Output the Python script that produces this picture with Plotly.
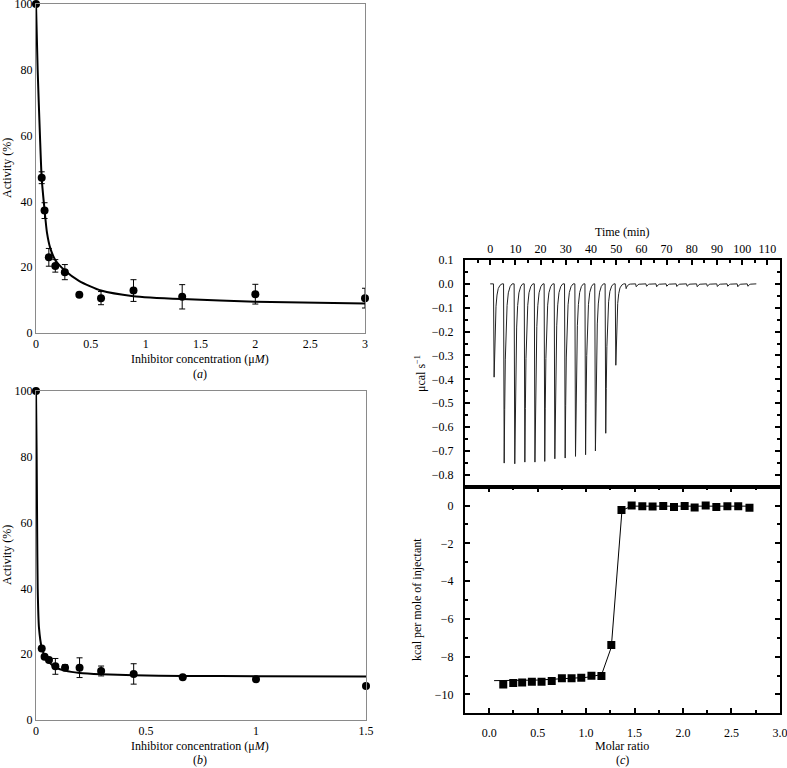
import plotly.graph_objects as go

# ---- panel (a): activity vs inhibitor concentration ----
conc_a = [0, 0.052, 0.078, 0.117, 0.176, 0.263, 0.395, 0.593, 0.889, 1.333, 2.0, 3.0]
act_a = [100, 47.2, 37.2, 23.0, 20.4, 18.5, 11.6, 10.6, 12.9, 11.0, 11.8, 10.6]
err_a = [0, 1.8, 2.4, 2.7, 1.9, 2.3, 0, 2.0, 3.3, 3.7, 3.0, 3.0]
fit_x_a = [0, 0.015, 0.036, 0.052, 0.078, 0.1, 0.13, 0.176, 0.263, 0.395, 0.593, 0.889, 1.333, 2.0, 3.0]
fit_y_a = [100, 80, 60, 47, 37.4, 30.5, 25.8, 22.2, 19.0, 15.8, 12.9, 11.2, 10.3, 9.5, 9.0]

# ---- panel (b) ----
conc_b = [0, 0.026, 0.039, 0.059, 0.088, 0.132, 0.198, 0.296, 0.444, 0.667, 1.0, 1.5]
act_b = [100, 21.7, 19.2, 18.2, 16.3, 15.9, 15.9, 14.9, 14.0, 13.0, 12.4, 10.3]
err_b = [0, 0, 0.5, 0.6, 2.4, 0.9, 3.0, 1.5, 3.1, 0, 0, 0]
fit_x_b = [0, 0.003, 0.005, 0.0077, 0.0136, 0.026, 0.039, 0.059, 0.088, 0.132, 0.198, 0.296, 0.444, 0.667, 1.0, 1.5]
fit_y_b = [100, 80, 60, 40, 28, 22, 19.6, 17.6, 16.0, 15.0, 14.3, 13.9, 13.6, 13.4, 13.3, 13.2]

# ---- panel (c) top: raw ITC thermogram ----
inj_time = [1.3, 5.3, 9.5, 13.5, 17.5, 21.4, 25.4, 29.5, 33.6, 37.6, 41.5, 45.6, 49.6,
            53.7, 57.7, 61.8, 65.8, 69.8, 73.8, 77.9, 81.9, 85.9, 89.9, 94.0, 98.0, 102.0]
inj_peak = [-0.391, -0.751, -0.754, -0.747, -0.747, -0.744, -0.733, -0.730, -0.723, -0.716, -0.700, -0.626, -0.341,
            -0.020, -0.012, -0.010, -0.012, -0.010, -0.011, -0.010, -0.012, -0.010, -0.011, -0.010, -0.012, -0.010]
run_end = 105.6
# spike outline: time offset (min) and fraction of peak depth
spike_dt = [0.0, 0.25, 0.45, 0.7, 1.0, 1.4, 1.9, 2.6, 3.4]
spike_frac = [0, 1.0, 0.7, 0.42, 0.24, 0.12, 0.05, 0.015, 0]

# ---- panel (c) bottom: integrated heats ----
molar_ratio = [0.145, 0.248, 0.34, 0.44, 0.54, 0.645, 0.75, 0.85, 0.95, 1.055, 1.158, 1.26, 1.365,
               1.47, 1.58, 1.686, 1.796, 1.907, 2.017, 2.12, 2.234, 2.344, 2.458, 2.57, 2.686]
heat = [-9.47, -9.40, -9.37, -9.33, -9.33, -9.29, -9.15, -9.15, -9.12, -9.01, -9.03, -7.38, -0.23,
        0.0, -0.04, -0.05, -0.02, -0.07, -0.02, -0.10, 0.0, -0.07, -0.04, -0.04, -0.12]
fit_x_c = [0.05, 0.5, 1.0, 1.16, 1.26, 1.37, 1.47, 2.0, 2.68]
fit_y_c = [-9.27, -9.24, -9.1, -8.95, -7.5, -0.25, -0.03, -0.03, -0.03]

W, H = 787, 768
FONT = "Liberation Serif"


def px(x):
    return x / W


def py(y):
    return 1 - y / H


therm_x, therm_y = [0], [0]
for t, d in zip(inj_time, inj_peak):
    for dt, f in zip(spike_dt, spike_frac):
        therm_x.append(t + dt)
        therm_y.append(d * f)
therm_x.append(run_end)
therm_y.append(0)

fig = go.Figure()

# panel a
fig.add_trace(go.Scatter(x=fit_x_a, y=fit_y_a, mode="lines", line=dict(color="black", width=2, shape="spline", smoothing=0.6),
                         xaxis="x", yaxis="y", cliponaxis=False))
fig.add_trace(go.Scatter(x=conc_a, y=act_a, mode="markers", marker=dict(color="black", size=8),
                         error_y=dict(type="data", array=err_a, color="black", thickness=1, width=3),
                         xaxis="x", yaxis="y", cliponaxis=False))
# panel b
fig.add_trace(go.Scatter(x=fit_x_b, y=fit_y_b, mode="lines", line=dict(color="black", width=2, shape="spline", smoothing=0.6),
                         xaxis="x2", yaxis="y2", cliponaxis=False))
fig.add_trace(go.Scatter(x=conc_b, y=act_b, mode="markers", marker=dict(color="black", size=8),
                         error_y=dict(type="data", array=err_b, color="black", thickness=1, width=3),
                         xaxis="x2", yaxis="y2", cliponaxis=False))
# panel c
fig.add_trace(go.Scatter(x=therm_x, y=therm_y, mode="lines", line=dict(color="#222", width=1),
                         xaxis="x3", yaxis="y3"))
fig.add_trace(go.Scatter(x=fit_x_c, y=fit_y_c, mode="lines", line=dict(color="black", width=1),
                         xaxis="x4", yaxis="y4"))
fig.add_trace(go.Scatter(x=molar_ratio, y=heat, mode="markers", marker=dict(color="black", size=8, symbol="square"),
                         xaxis="x4", yaxis="y4"))

tickfont = dict(family=FONT, size=12, color="black")
grey_axis = dict(showline=True, mirror=True, linecolor="#8a8a8a", linewidth=1, ticks="",
                 showgrid=False, zeroline=False, tickfont=tickfont, automargin=False,
                 ticklabeloverflow="allow")
black_axis = dict(showline=True, linecolor="black", linewidth=2, ticks="inside", ticklen=5,
                  tickwidth=1.5, tickcolor="black", showgrid=False, zeroline=False, tickfont=tickfont,
                  ticklabelstandoff=7, automargin=False, ticklabeloverflow="allow")

fig.update_layout(
    width=W, height=H, autosize=False, showlegend=False,
    margin=dict(l=0, r=0, t=0, b=0, autoexpand=False),
    paper_bgcolor="white", plot_bgcolor="white",
    font=dict(family=FONT, size=12, color="black"),
    xaxis=dict(grey_axis, domain=[px(36), px(365)], anchor="y", range=[0, 3],
               tickvals=[0, 0.5, 1, 1.5, 2, 2.5, 3], ticktext=["0", "0.5", "1", "1.5", "2", "2.5", "3"]),
    yaxis=dict(grey_axis, domain=[py(333), py(4)], anchor="x", range=[0, 100], dtick=20),
    xaxis2=dict(grey_axis, domain=[px(36), px(366)], anchor="y2", range=[0, 1.5],
                tickvals=[0, 0.5, 1, 1.5], ticktext=["0", "0.5", "1", "1.5"]),
    yaxis2=dict(grey_axis, domain=[py(720), py(391)], anchor="x2", range=[0, 100], dtick=20),
    xaxis3=dict(black_axis, domain=[px(465), px(780)], anchor="y3", side="top", mirror=True,
                range=[-10, 115], tickvals=list(range(0, 120, 10)), ticklabelstandoff=0,
                minor=dict(ticks="inside", dtick=5, tick0=0, ticklen=3, tickwidth=1.5, tickcolor="black")),
    yaxis3=dict(black_axis, domain=[py(486.7), py(260)], anchor="x3", mirror="ticks",
                range=[-0.85, 0.1], dtick=0.1, tick0=0, tickformat=".1f",
                minor=dict(ticks="inside", dtick=0.05, tick0=0, ticklen=3, tickwidth=1.5, tickcolor="black")),
    xaxis4=dict(black_axis, domain=[px(465), px(780)], anchor="y4", mirror="ticks",
                range=[-0.25, 3.001], dtick=0.5, tick0=0, tickformat=".1f",
                minor=dict(ticks="inside", dtick=0.25, tick0=0, ticklen=3, tickwidth=1.5, tickcolor="black")),
    yaxis4=dict(black_axis, domain=[py(713.3), py(486.7)], anchor="x4", mirror="ticks",
                range=[-11, 1], dtick=2, tick0=0,
                minor=dict(ticks="inside", dtick=1, tick0=0, ticklen=3, tickwidth=1.5, tickcolor="black")),
)


def label(text, x, y, angle=0):
    fig.add_annotation(text=text, x=px(x), y=py(y), xref="paper", yref="paper", showarrow=False,
                       textangle=angle, font=dict(family=FONT, size=12, color="black"),
                       xanchor="center", yanchor="middle")


label("Activity (%)", 7, 168, -90)
label("Inhibitor concentration (\u03bc<i>M</i>)", 200, 359)
label("(<i>a</i>)", 200, 374)
label("Activity (%)", 7, 555, -90)
label("Inhibitor concentration (\u03bc<i>M</i>)", 200, 746)
label("(<i>b</i>)", 200, 760)
label("Time (min)", 622, 232)
label("\u03bccal s<sup>\u22121</sup>", 421, 373, -90)
label("kcal per mole of injectant", 417, 600, -90)
label("Molar ratio", 622, 746)
label("(<i>c</i>)", 622, 760)

# drop the browser's default body margin so the figure sits at the window corner
fig.write_html("out.html", config={"displayModeBar": False},
               post_script="document.body.style.margin='0px';")
